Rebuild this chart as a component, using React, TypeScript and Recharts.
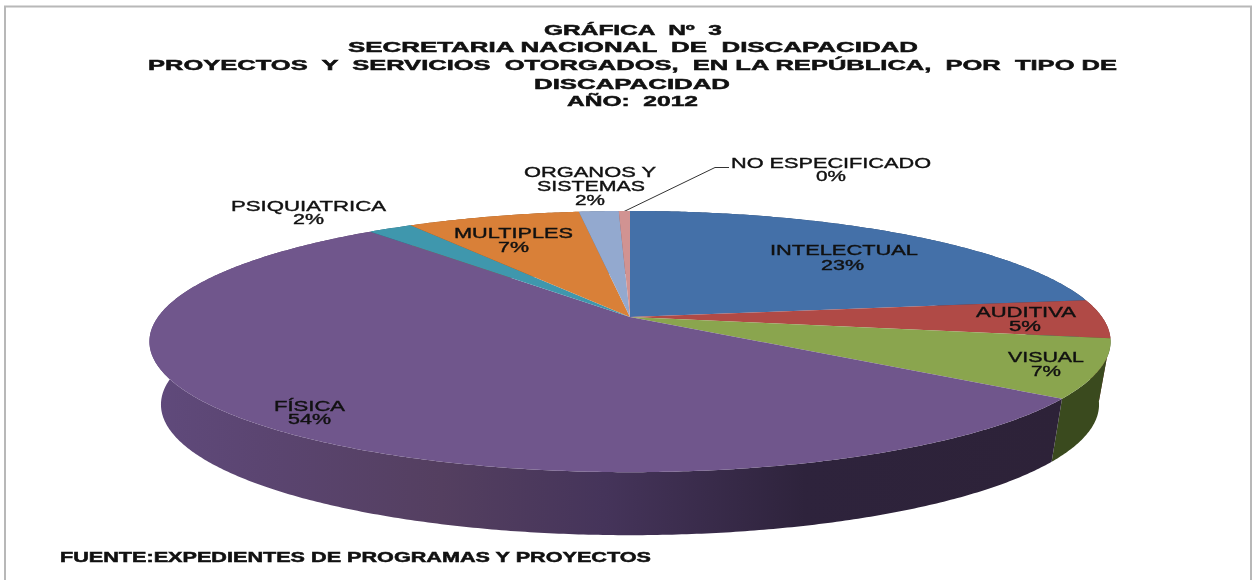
import React from 'react'
import { PieChart, Pie } from 'recharts'

const categories = [
  'INTELECTUAL',
  'AUDITIVA',
  'VISUAL',
  'FÍSICA',
  'PSIQUIATRICA',
  'MULTIPLES',
  'ORGANOS Y|SISTEMAS',
  'NO ESPECIFICADO',
]
const shares = [22.8, 4.8, 7.2, 54.3, 1.8, 7.0, 1.6, 0.45]
const titleLines = [
  'GRÁFICA  Nº  3',
  'SECRETARIA NACIONAL  DE  DISCAPACIDAD',
  'PROYECTOS  Y  SERVICIOS  OTORGADOS,  EN LA REPÚBLICA,  POR  TIPO DE',
  'DISCAPACIDAD',
  'AÑO:  2012',
]
const sourceNote = 'FUENTE:EXPEDIENTES DE PROGRAMAS Y PROYECTOS'

const topColors = ['#4470a8', '#b04a46', '#8aa54e', '#70568c', '#3f97ad', '#d98038', '#93a9cf', '#d19392']
const wallColors = ['#2a4568', '#6e2e2c', '#3a4a1e', 'url(#fisicaWall)', '#27606e', '#8a5023', '#5d6c85', '#855d5c']

// layout of the text, [x from, x to, baseline]
const titleBoxes = [
  [544, 722, 35],
  [348, 918, 52],
  [148, 1117, 69.5],
  [534, 730, 89],
  [567, 698, 106],
]
const labelBoxes = [
  [[770, 918, 255], [821, 864, 270]],
  [[976, 1076, 317], [1009, 1041, 331]],
  [[1008, 1084, 362], [1031, 1061, 376]],
  [[274, 345, 411], [288, 331, 424]],
  [[231, 386, 211], [293, 324, 224]],
  [[454, 573, 238], [498, 529, 252]],
  [[524, 656, 177], [537, 645, 191], [575, 605, 205]],
  [[731, 931, 168], [816, 846, 181]],
]

const WIDTH = 1253
const HEIGHT = 580
const CX = 630
const CY = 317
// perspective of the disc: far edge 106px above the centre, near edge 155px below
const TILT = 0.188
const RX = 472
const RY = 126
const WALL_SHRINK = 0.976
const WALL_DEPTH = 63

const tableData = categories.map((name, i) => ({ name, value: shares[i], fill: topColors[i], wall: wallColors[i] }))

const project = (deg: number) => {
  const a = ((90 - deg) * Math.PI) / 180
  const X = Math.sin(a)
  const Y = -Math.cos(a)
  const w = 1 - TILT * Y
  return { x: (RX * X) / w, y: (RY * Y) / w }
}

const arcPoints = (startAngle: number, endAngle: number) => {
  const steps = Math.max(2, Math.ceil(Math.abs(endAngle - startAngle) * 2))
  const pts = []
  for (let i = 0; i <= steps; i++) {
    pts.push(project(startAngle + ((endAngle - startAngle) * i) / steps))
  }
  return pts
}

const TopSlice = (props: any) => {
  const pts = arcPoints(props.startAngle, props.endAngle)
  const d = `M${CX},${CY} ` + pts.map((p) => `L${CX + p.x},${CY + p.y}`).join(' ') + ' Z'
  return <path d={d} fill={props.fill} stroke="none" />
}

const WallSlice = (props: any) => {
  const pts = arcPoints(props.startAngle, props.endAngle)
  const upper = pts.map((p) => `${CX + p.x},${CY + p.y}`)
  const lower = pts
    .slice()
    .reverse()
    .map((p) => `${CX + p.x * WALL_SHRINK},${CY + p.y + WALL_DEPTH}`)
  return <path d={`M${upper.concat(lower).join(' L')} Z`} fill={props.payload?.wall ?? props.wall} stroke="none" />
}

const FitText = ({ box, children, bold }: any) => (
  <text
    x={box[0]}
    y={box[2]}
    textLength={box[1] - box[0]}
    lengthAdjust="spacingAndGlyphs"
    fontFamily="'Liberation Sans', Arial, sans-serif"
    fontSize={15}
    fontWeight={bold ? 700 : 400}
    fill="#111"
    stroke="#111"
    strokeWidth={bold ? 0.5 : 0.4}
    style={{ whiteSpace: 'pre' }}
  >
    {children}
  </text>
)

const renderLabel = (props: any) => {
  const i = props.index
  const lines = categories[i].split('|').concat(`${Math.round(shares[i])}%`)
  return (
    <g key={i}>
      {lines.map((line, j) => (
        <FitText key={j} box={labelBoxes[i][j]}>
          {line}
        </FitText>
      ))}
    </g>
  )
}

export default function App() {
  return (
    <div style={{ position: 'absolute', left: 0, top: 0, width: WIDTH, height: HEIGHT, background: '#fff', filter: 'blur(0.6px)' }}>
      <PieChart width={WIDTH} height={HEIGHT} margin={{ top: 0, right: 0, bottom: 0, left: 0 }}>
        <defs>
          <linearGradient id="fisicaWall" gradientUnits="userSpaceOnUse" x1={150} y1={0} x2={1060} y2={0}>
            <stop offset="0%" stopColor="#604a7c" />
            <stop offset="12%" stopColor="#5b4571" />
            <stop offset="32%" stopColor="#543f60" />
            <stop offset="50%" stopColor="#45345a" />
            <stop offset="72%" stopColor="#2e233c" />
            <stop offset="100%" stopColor="#2d2238" />
          </linearGradient>
        </defs>
        <rect x={5} y={6.5} width={1246} height={620} fill="#fff" stroke="#b8b8b8" strokeWidth={2} />
        {titleLines.map((line, i) => (
          <FitText key={line} box={titleBoxes[i]} bold>
            {line}
          </FitText>
        ))}
        <Pie
          data={tableData}
          dataKey="value"
          nameKey="name"
          cx={CX}
          cy={CY}
          outerRadius={RX}
          startAngle={90}
          endAngle={-270}
          shape={WallSlice}
          isAnimationActive={false}
          stroke="none"
          label={false}
          labelLine={false}
        />
        <Pie
          data={tableData}
          dataKey="value"
          nameKey="name"
          cx={CX}
          cy={CY}
          outerRadius={RX}
          startAngle={90}
          endAngle={-270}
          shape={TopSlice}
          isAnimationActive={false}
          stroke="none"
          label={renderLabel}
          labelLine={false}
        />
        <polyline points="623,212 715,167.5 729,167.5" fill="none" stroke="#333" strokeWidth={1} />
        <FitText box={[60, 651, 562]} bold>
          {sourceNote}
        </FitText>
      </PieChart>
    </div>
  )
}
